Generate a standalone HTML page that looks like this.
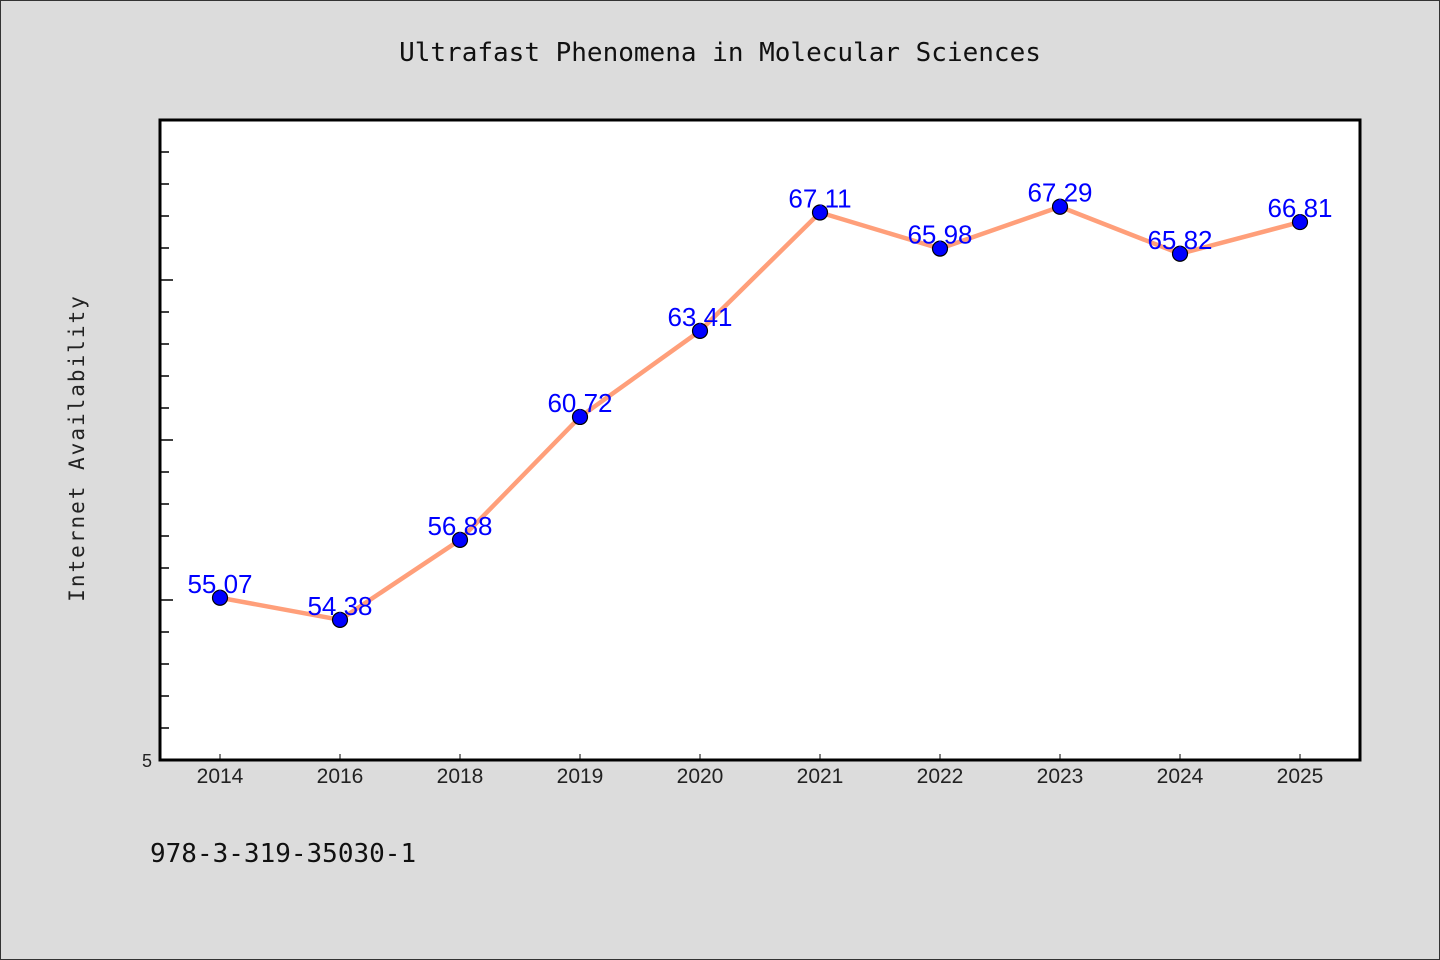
<!DOCTYPE html>
<html><head><meta charset="utf-8"><style>
html,body{margin:0;padding:0;background:#dcdcdc}
svg{display:block}
</style></head><body>
<svg width="1440" height="960" viewBox="0 0 1440 960" font-family="'Liberation Sans','WenQuanYi Zen Hei',sans-serif">
<rect x="0.5" y="0.5" width="1439" height="959" fill="#dcdcdc" stroke="#333" stroke-width="1"/>
<text x="720" y="61" text-anchor="middle" font-size="26" fill="#111" font-family="'DejaVu Sans Mono','Liberation Mono',monospace">Ultrafast Phenomena in Molecular Sciences</text>
<rect x="160" y="120" width="1200" height="640" fill="#fff"/>
<g id="yticks"></g>
<g id="xticks"></g>
<g id="series"></g>
<rect x="160" y="120" width="1200" height="640" fill="none" stroke="#000" stroke-width="3"/>
<text transform="translate(84,448) rotate(-90)" text-anchor="middle" font-size="21" fill="#222" letter-spacing="2" font-family="'DejaVu Sans Mono','Liberation Mono',monospace">Internet Availability</text>
<text x="150" y="862" font-size="26" fill="#111" font-family="'DejaVu Sans Mono','Liberation Mono',monospace">978-3-319-35030-1</text>
</svg>
<script>
const categories = ["2014","2016","2018","2019","2020","2021","2022","2023","2024","2025"];
const values = [55.07,54.38,56.88,60.72,63.41,67.11,65.98,67.29,65.82,66.81];
const valueLabels = ["55.07","54.38","56.88","60.72","63.41","67.11","65.98","67.29","65.82","66.81"];
const yMin = 50, yMax = 70;
const NS = "http://www.w3.org/2000/svg";
const L=160,R=1360,T=120,B=760;
const band=(R-L)/categories.length;
const xs=i=>L+band*(i+0.5);
const ys=v=>B-(v-yMin)/(yMax-yMin)*(B-T);
function mk(tag,attrs,parent){const e=document.createElementNS(NS,tag);for(const k in attrs)e.setAttribute(k,attrs[k]);parent.appendChild(e);return e;}
const yg=document.getElementById('yticks');
for(let v=yMin;v<=yMax;v++){
  const y=ys(v), len=(v%5===0)?13:9;
  const t=mk('line',{x1:L,x2:L+len,y1:y,y2:y,stroke:'#000','stroke-width':1.5},yg);
  
  
}
const yl=mk('text',{x:152,y:B+7,'text-anchor':'end','font-size':18,fill:'#222'},yg);


yl.textContent='5';
const xg=document.getElementById('xticks');
categories.forEach((c,i)=>{
  const x=xs(i);
  const t=mk('line',{x1:x,x2:x,y1:B,y2:B-6,stroke:'#000','stroke-width':1},xg);
  
  
  const tl=mk('text',{x:x,y:B+23,'text-anchor':'middle','font-size':21,fill:'#222'},xg);
  
  
  tl.textContent=c;
});
const sg=document.getElementById('series');
const pts=values.map((v,i)=>xs(i)+','+ys(v)).join(' ');
const pl=mk('polyline',{points:pts,fill:'none',stroke:'#ff9f7a','stroke-width':4.5,'stroke-linejoin':'round'},sg);


values.forEach((v,i)=>{
  const c=mk('circle',{cx:xs(i),cy:ys(v),r:7.5,fill:'#0000ff',stroke:'#000','stroke-width':1.2},sg);
  
  
});
values.forEach((v,i)=>{
  const t=mk('text',{x:xs(i),y:ys(v)-5,'text-anchor':'middle','font-size':26,fill:'#0000ff'},sg);
  
  
  t.textContent=valueLabels[i];
});
</script>
</body></html>
